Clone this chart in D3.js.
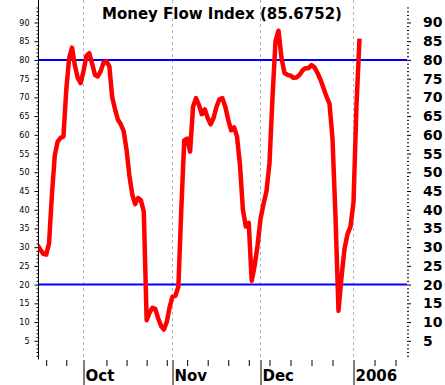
<!DOCTYPE html>
<html>
<head>
<meta charset="utf-8">
<script src="https://cdn.jsdelivr.net/npm/d3@7"></script>
<style>
  body { margin: 0; background: #fff; }
  svg { display: block; }
</style>
</head>
<body>
<svg id="mfi" width="445" height="385"></svg>
<script>
// one value per calendar day
var firstDay = "2005-09-15";
var lastDay = "2006-01-03";
var mfiValues = [
  30.5, 29.3, 28.2, 28.0, 31.0, 44.0, 54.5, 58.2, 59.2, 59.5, 72.0, 80.5, 83.3, 78.5, 75.2, 73.8,   // Sep 15-30
  77.0, 81.0, 81.8, 79.0, 76.0, 75.6, 77.0, 79.3, 79.6, 78.3, 70.0, 66.8, 64.0, 62.8, 61.0, 56.0,   // Oct 1-16
  49.0, 44.0, 41.5, 43.1, 42.5, 39.5, 10.5, 12.5, 13.8, 13.5, 11.0, 9.0, 8.0, 10.0, 14.0,           // Oct 17-31
  16.8, 17.0, 19.5, 40.0, 58.5, 59.0, 55.5, 67.5, 69.8, 68.0, 65.5, 66.8, 64.5, 62.8, 64.5,         // Nov 1-15
  67.5, 69.5, 69.8, 67.5, 64.0, 61.2, 62.0, 59.5, 52.0, 40.0, 35.5, 36.5, 21.0, 25.0, 30.5,         // Nov 16-30
  37.5, 41.5, 45.0, 52.5, 70.0, 85.0, 87.8, 80.5, 76.5, 76.0, 75.8, 75.2, 75.3, 76.0, 77.2, 77.8,   // Dec 1-16
  77.8, 78.6, 78.0, 76.5, 74.7, 72.5, 70.2, 68.3, 59.0, 38.0, 13.0, 22.0, 29.5, 33.5, 35.5,         // Dec 17-31
  42.0, 68.0, 85.6752                                                                                 // Jan 1-3
];
var lastValue = "85.6752";
var monthStarts = ["2005-10-01", "2005-11-01", "2005-12-01", "2006-01-01"];
var monthLabels = ["Oct", "Nov", "Dec", "2006"];
var bandLevels = [20, 80];
var yLabels = [5, 10, 15, 20, 25, 30, 35, 40, 45, 50, 55, 60, 65, 70, 75, 80, 85, 90];

var parseDay = d3.timeParse("%Y-%m-%d");
var days = d3.timeDay.range(parseDay(firstDay), d3.timeDay.offset(parseDay(lastDay), 1));
var data = days.map(function(d, i) { return {date: d, value: mfiValues[i]}; });
var months = monthStarts.map(parseDay);

var svg = d3.select("#mfi");
var left = 38.5, right = 407;

// month boundaries are not evenly spaced on the original, so piecewise time scale
var x = d3.scaleTime()
  .domain(months)
  .range([83.5, 172.5, 260.5, 353.5]);
var y = d3.scaleLinear().domain([0, 96]).range([359.5, 0]);

svg.append("clipPath").attr("id", "plot")
  .append("rect")
  .attr("x", left).attr("y", 0)
  .attr("width", right - left).attr("height", 360);

// dashed month gridlines
svg.append("g").selectAll("line")
  .data(months)
  .enter().append("line")
  .attr("x1", d => x(d)).attr("x2", d => x(d))
  .attr("y1", 0).attr("y2", y(0))
  .attr("stroke", "#b4b4b4")
  .attr("stroke-dasharray", "3,3");

// overbought / oversold levels
svg.append("g").selectAll("line")
  .data(bandLevels)
  .enter().append("line")
  .attr("x1", left).attr("x2", right)
  .attr("y1", d => y(d)).attr("y2", d => y(d))
  .attr("stroke", "#0000ff")
  .attr("stroke-width", 2);

var minorVals = d3.range(1, 96).filter(v => v % 5 != 0);

// left axis, small labels
var gl = svg.append("g").attr("transform", `translate(${left},0)`);
gl.call(d3.axisLeft(y).tickValues(yLabels).tickSize(4).tickPadding(5).tickSizeOuter(0));
gl.call(g => g.select(".domain").attr("d", `M0,${y(96)}V${y(0)}`));
gl.selectAll("text").attr("font-family", "DejaVu Sans").attr("font-size", 8).attr("fill", "#000");
gl.append("g").call(d3.axisLeft(y).tickValues(minorVals).tickSize(2).tickFormat(""))
  .select(".domain").remove();

// right axis, big bold labels, no axis line
var gr = svg.append("g").attr("transform", `translate(${right},0)`);
gr.call(d3.axisRight(y).tickValues(yLabels).tickSize(4).tickPadding(12));
gr.select(".domain").remove();
gr.selectAll("text")
  .attr("font-family", "DejaVu Sans").attr("font-weight", "bold")
  .attr("font-size", 14).attr("fill", "#000");
gr.append("g").call(d3.axisRight(y).tickValues(minorVals).tickSize(2).tickFormat(""))
  .select(".domain").remove();

// weekly ticks along the bottom
var weeks = d3.timeSunday.range(d3.timeDay.offset(x.invert(left), 1), x.invert(right))
  .filter(d => d3.min(months, m => Math.abs(x(m) - x(d))) > 4);
var gb = svg.append("g").attr("transform", `translate(0,${y(0) + 0.5})`);
gb.call(d3.axisBottom(x).tickValues(weeks).tickSize(6).tickFormat(""));
gb.select(".domain").remove();

// month separators and labels
var gm = svg.append("g").attr("transform", `translate(0,${y(0) + 0.5})`);
gm.call(d3.axisBottom(x).tickValues(months).tickSize(26).tickFormat(""));
gm.select(".domain").remove();
svg.append("g").selectAll("text")
  .data(months)
  .enter().append("text")
  .attr("x", d => x(d) + 2)
  .attr("y", 380.5)
  .attr("font-family", "DejaVu Sans").attr("font-weight", "bold").attr("font-size", 15)
  .text((d, i) => monthLabels[i]);

// the MFI line
var line = d3.line()
  .x(d => x(d.date))
  .y(d => y(d.value));

svg.append("path")
  .datum(data)
  .attr("clip-path", "url(#plot)")
  .attr("fill", "none")
  .attr("stroke", "#ff0000")
  .attr("stroke-width", 4.5)
  .attr("stroke-linejoin", "round")
  .attr("d", line);

svg.append("text")
  .attr("x", 102)
  .attr("y", 18.5)
  .attr("font-family", "DejaVu Sans").attr("font-weight", "bold").attr("font-size", 15)
  .text("Money Flow Index (" + lastValue + ")");
</script>
</body>
</html>
